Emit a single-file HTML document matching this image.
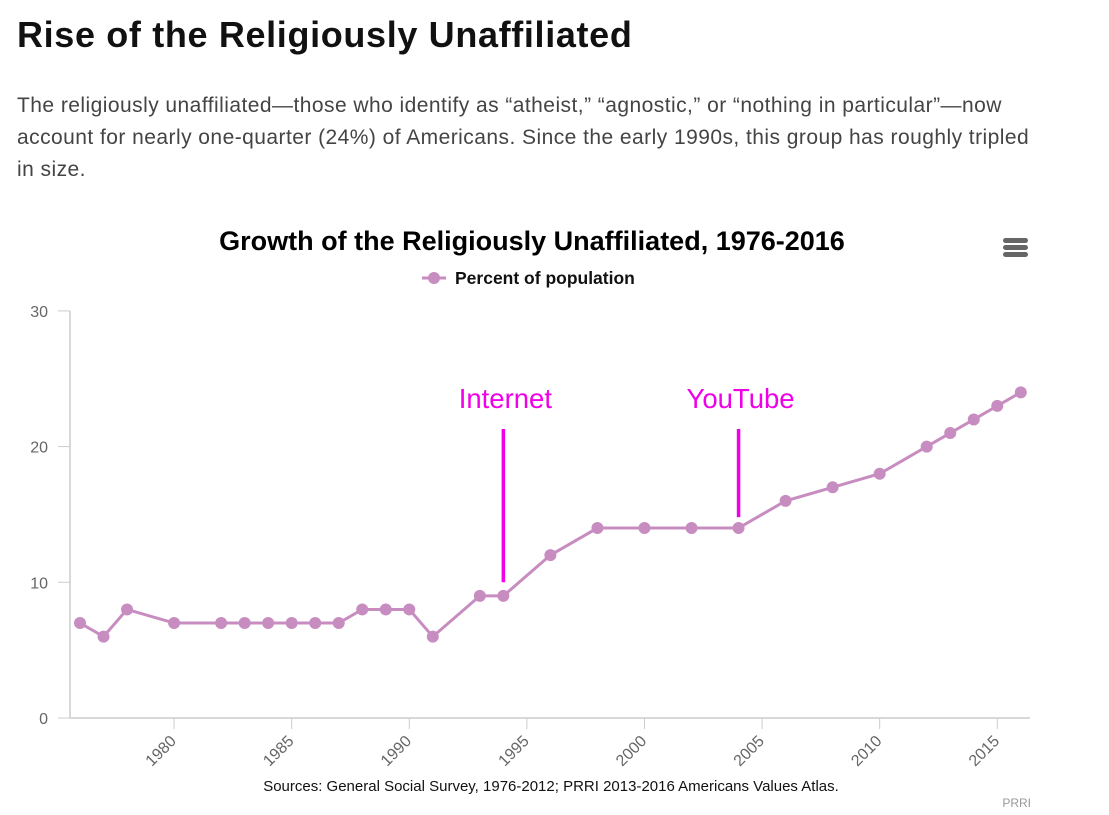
<!DOCTYPE html>
<html><head><meta charset="utf-8"><style>
body{margin:0;background:#fff;width:1109px;height:815px;overflow:hidden;font-family:"Liberation Sans",sans-serif;}
h1{position:absolute;left:17px;top:14px;margin:0;font-size:36px;font-weight:bold;color:#111;letter-spacing:0.65px;white-space:nowrap}
p{position:absolute;left:17px;top:90px;margin:0;width:1090px;font-size:21px;line-height:32px;color:#444;letter-spacing:0.45px;white-space:nowrap}
</style></head><body>
<h1>Rise of the Religiously Unaffiliated</h1>
<p>The religiously unaffiliated—those who identify as “atheist,” “agnostic,” or “nothing in particular”—now<br>account for nearly one-quarter (24%) of Americans. Since the early 1990s, this group has roughly tripled<br>in size.</p>
<svg id="chart" width="1109" height="815" style="position:absolute;left:0;top:0" font-family="Liberation Sans, sans-serif"></svg>
<script>
const years=[1976,1977,1978,1980,1982,1983,1984,1985,1986,1987,1988,1989,1990,1991,1993,1994,1996,1998,2000,2002,2004,2006,2008,2010,2012,2013,2014,2015,2016];
const values=[7,6,8,7,7,7,7,7,7,7,8,8,8,6,9,9,12,14,14,14,14,16,17,18,20,21,22,23,24];
const xTicks=[1980,1985,1990,1995,2000,2005,2010,2015];
const yTicks=[0,10,20,30];
const annotations=[{label:"Internet",year:1994,from:10,to:21.3},{label:"YouTube",year:2004,from:14.8,to:21.3}];
const svg=document.getElementById('chart');const NS="http://www.w3.org/2000/svg";
const X=y=>80+(y-1976)*23.52;const Y=v=>718-v*13.57;
function mk(t,a,parent){const e=document.createElementNS(NS,t);for(const k in a)e.setAttribute(k,a[k]);(parent||svg).appendChild(e);return e;}
let e;
e=mk('text',{x:532,y:250,'text-anchor':'middle','font-size':27,'font-weight':'bold',fill:'#000'});e.textContent='Growth of the Religiously Unaffiliated, 1976-2016';


const menu=mk('g',{});


[238,245,252].forEach(y=>mk('rect',{x:1003,y:y,width:25,height:5,rx:2.5,fill:'#666'},menu));
const leg=mk('g',{});


mk('line',{x1:422,y1:278,x2:446,y2:278,stroke:'#c88dc0','stroke-width':3},leg);
mk('circle',{cx:434,cy:278,r:6,fill:'#c88dc0'},leg);
e=mk('text',{x:455,y:284,'font-size':17.5,'font-weight':'bold',fill:'#111'},leg);e.textContent='Percent of population';
e=mk('line',{x1:70,y1:311,x2:70,y2:718,stroke:'#ccc','stroke-width':1.5});


e=mk('line',{x1:70,y1:718,x2:1030,y2:718,stroke:'#ccc','stroke-width':1.5});


yTicks.forEach(v=>{mk('line',{x1:58,y1:Y(v),x2:70,y2:Y(v),stroke:'#ccc'});
 e=mk('text',{x:48,y:Y(v)+6,'text-anchor':'end','font-size':16,fill:'#666'});e.textContent=v;
 
 });
xTicks.forEach(t=>{mk('line',{x1:X(t),y1:718,x2:X(t),y2:729,stroke:'#ccc'});
 e=mk('text',{x:X(t)+3,y:742,'text-anchor':'end','font-size':16,fill:'#666',transform:`rotate(-45 ${X(t)+3} 742)`});e.textContent=t;
 
 });
e=mk('polyline',{points:years.map((y,i)=>X(y)+','+Y(values[i])).join(' '),fill:'none',stroke:'#c88dc0','stroke-width':3});


years.forEach((y,i)=>{e=mk('circle',{cx:X(y),cy:Y(values[i]),r:6,fill:'#c88dc0'});
 
 });
annotations.forEach(a=>{e=mk('line',{x1:X(a.year),y1:Y(a.from),x2:X(a.year),y2:Y(a.to),stroke:'#f000e8','stroke-width':3.5});
 
 
 e=mk('text',{x:X(a.year)+2,y:408,'text-anchor':'middle','font-size':27.5,fill:'#f000e8'});e.textContent=a.label;
 
 });
e=mk('text',{x:551,y:791,'text-anchor':'middle','font-size':15,fill:'#111'});e.textContent='Sources: General Social Survey, 1976-2012; PRRI 2013-2016 Americans Values Atlas.';


e=mk('text',{x:1031,y:807,'text-anchor':'end','font-size':12,fill:'#999'});e.textContent='PRRI';


</script>
</body></html>
